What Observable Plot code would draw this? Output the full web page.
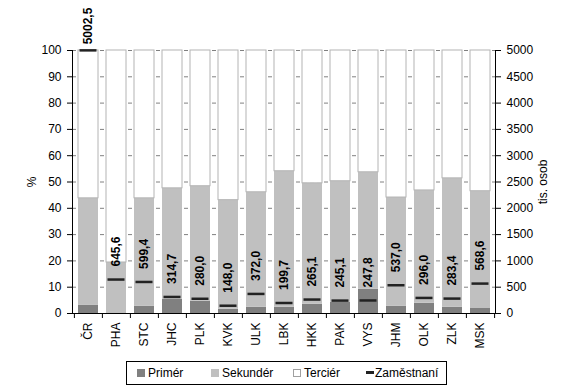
<!DOCTYPE html>
<html><head><meta charset="utf-8">
<script src="https://cdn.jsdelivr.net/npm/d3@7"></script>
<script src="https://cdn.jsdelivr.net/npm/@observablehq/plot@0.6"></script>
<style>
body{margin:0;background:#fff;font-family:"Liberation Sans",Arial,sans-serif;}
#wrap{position:relative;width:573px;height:392px;overflow:hidden;}
#legend{position:absolute;left:126px;top:361px;width:319px;height:22px;border:1px solid #000;font-size:12px;color:#000;}
.item{position:absolute;top:0;height:22px;line-height:22px;white-space:nowrap;}
.sw{display:inline-block;width:8px;height:8px;margin-right:3px;box-sizing:border-box;vertical-align:-0px;}
.ln{display:inline-block;width:8px;height:3px;margin-right:1px;background:#222;vertical-align:3px;}
</style></head>
<body><div id="wrap"><div id="chart"></div><div id="legend"></div></div>
<script>
const regions = ["ČR","PHA","STC","JHC","PLK","KVK","ULK","LBK","HKK","PAK","VYS","JHM","OLK","ZLK","MSK"];
const primer   = [3.2, 0.2, 2.8, 5.4, 4.7, 1.6, 2.4, 2.4, 3.5, 4.3, 9.2, 2.8, 3.9, 2.4, 1.9];
const sekunder = [40.6,19.2,41.0,42.2,43.7,41.5,43.7,51.7,46.0,46.0,44.5,41.3,42.9,49.0,44.6];
const tercier  = [56.2,80.6,56.2,52.4,51.6,56.9,53.9,45.9,50.5,49.7,46.3,55.9,53.2,48.6,53.5];
const zamestnani = [5002.5,645.6,599.4,314.7,280.0,148.0,372.0,199.7,265.1,245.1,247.8,537.0,296.0,283.4,568.6];
const legendLabels = ["Primér","Sekundér","Terciér","Zaměstnaní"];
const yTicks = [0,10,20,30,40,50,60,70,80,90,100];
const y2Ticks = [0,500,1000,1500,2000,2500,3000,3500,4000,4500,5000];
const yLabel = "%";
const y2Label = "tis. osob";

const ratio = y2Ticks[y2Ticks.length-1] / yTicks[yTicks.length-1];
const fmt = v => d3.format(".1f")(v).replace(".", ",");
const rows = regions.map((r,i)=>({region:r, p:primer[i], s:sekunder[i], t:tercier[i], z:zamestnani[i]}));

const W = 573, H = 350, mL = 72, mR = 78, mT = 50, mB = 37;
const pIn = 0.29, pOut = 0.145;
const step = (W - mL - mR) / (regions.length - pIn + 2*pOut);

const chart = Plot.plot({
  width: W, height: H,
  marginLeft: mL, marginRight: mR, marginTop: mT, marginBottom: mB,
  style: {fontFamily: "Liberation Sans, Arial, sans-serif", fontSize: "12px", background: "#fff", color: "#000"},
  x: {domain: regions, paddingInner: pIn, paddingOuter: pOut, label: null},
  y: {domain: [0, 100], label: null},
  marks: [
    Plot.gridY({ticks: yTicks.filter(d => d > 0), stroke: "#808080", strokeOpacity: 1, strokeDasharray: "4,3"}),
    Plot.barY(rows, {x: "region", y1: 0, y2: "p", fill: "#808080"}),
    Plot.barY(rows, {x: "region", y1: "p", y2: d => d.p + d.s, fill: "#c0c0c0"}),
    Plot.barY(rows, {x: "region", y1: d => d.p + d.s, y2: d => d.p + d.s + d.t, fill: "#fff", stroke: "#b4b4b4"}),
    Plot.tickY(rows, {x: "region", y: d => d.z / ratio, stroke: "#222", strokeWidth: 2.5, inset: 1.5}),
    Plot.text(rows.slice(1), {x: "region", y: d => d.z / ratio, text: d => fmt(d.z), rotate: -90, textAnchor: "start", dy: -13, fontWeight: "bold", fontSize: 12, fill: "#000"}),
    Plot.text(rows.slice(0,1), {x: "region", y: d => d.z / ratio, text: d => fmt(d.z), rotate: -90, textAnchor: "start", dy: -6, fontWeight: "bold", fontSize: 12, fill: "#000"}),
    Plot.ruleY([0], {stroke: "#000"}),
    Plot.frame({anchor: "left", stroke: "#000"}),
    Plot.frame({anchor: "right", stroke: "#000"}),
    Plot.axisY({ticks: yTicks, tickSize: 5, tickPadding: 6, fontSize: 12, label: yLabel, labelAnchor: "center", labelOffset: 45, labelArrow: false}),
    Plot.axisY({anchor: "right", ticks: y2Ticks.map(v => v / ratio), tickFormat: d => String(Math.round(d * ratio)), tickSize: 5, tickPadding: 6, fontSize: 12, label: y2Label, labelAnchor: "center", labelOffset: 51, labelArrow: false}),
    Plot.axisX({tickSize: 0, tickPadding: 9, tickRotate: -90, fontSize: 12, label: null}),
    Plot.axisX({tickSize: 5, tickFormat: () => "", dx: -step/2, label: null}),
    Plot.axisX({ticks: [regions[regions.length-1]], tickSize: 5, tickFormat: () => "", dx: step/2, label: null})
  ]
});
document.getElementById("chart").appendChild(chart);

const lg = document.getElementById("legend");
const lefts = [10, 84, 166, 239];
const sw = [
  '<span class="sw" style="background:#808080"></span>',
  '<span class="sw" style="background:#c0c0c0"></span>',
  '<span class="sw" style="background:#fff;border:1px solid #a0a0a0"></span>',
  '<span class="ln"></span>'
];
legendLabels.forEach((l,i) => {
  const d = document.createElement("div");
  d.className = "item";
  d.style.left = lefts[i] + "px";
  d.innerHTML = sw[i] + l;
  lg.appendChild(d);
});
</script></body></html>
